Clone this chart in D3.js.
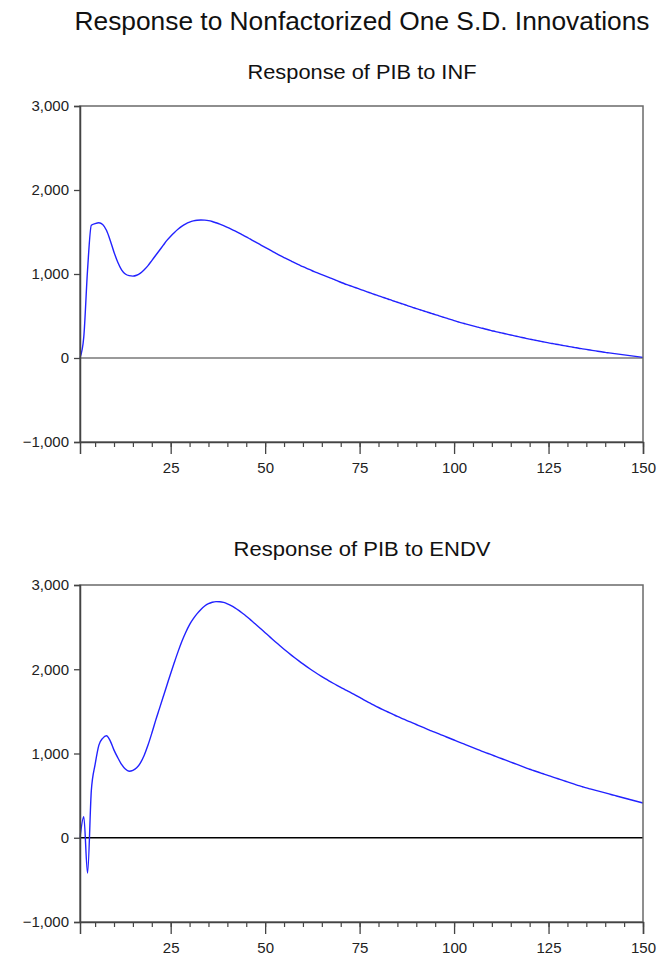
<!DOCTYPE html>
<html>
<head>
<meta charset="utf-8">
<script src="https://cdn.jsdelivr.net/npm/d3@7"></script>
<style>
  html, body { margin: 0; padding: 0; background: #fff; }
  svg { display: block; }
  text { font-family: "Liberation Sans", Arial, sans-serif; }
</style>
</head>
<body>
<svg id="chart" width="659" height="963"></svg>
<script>
// ---------------- DATA ----------------
const mainTitle = "Response to Nonfactorized One S.D. Innovations";
const panelTitles = ["Response of PIB to INF", "Response of PIB to ENDV"];
const yTickValues = [-1000, 0, 1000, 2000, 3000];
const xMajorTicks = [25, 50, 75, 100, 125, 150];
const xMinorTicks = d3.range(5, 151, 5);
const periods = d3.range(1, 151);

const responseINF = [
  0, 250, 1050, 1580, 1600, 1610, 1590, 1520, 1400, 1260,
  1140, 1050, 1000, 980, 975, 985, 1010, 1050, 1100, 1160,
  1220, 1280, 1340, 1400, 1450, 1495, 1535, 1570, 1598, 1618,
  1632, 1640, 1643, 1641, 1636, 1625, 1610, 1594, 1576, 1556,
  1535, 1513, 1490, 1466, 1442, 1417, 1392, 1367, 1342, 1317,
  1292, 1267, 1243, 1219, 1196, 1173, 1151, 1129, 1108, 1087,
  1067, 1048, 1029, 1011, 993, 975, 957, 939, 920, 902,
  884, 868, 852, 836, 820, 804, 788, 772, 756, 740,
  725, 710, 694, 679, 664, 649, 634, 618, 603, 588,
  574, 560, 545, 531, 517, 502, 488, 474, 459, 445,
  432, 419, 407, 395, 383, 371, 359, 348, 336, 325,
  314, 304, 294, 284, 274, 264, 254, 244, 234, 225,
  216, 207, 198, 189, 180, 172, 164, 156, 148, 140,
  132, 124, 116, 109, 102, 95, 88, 81, 74, 67,
  61, 55, 49, 43, 37, 31, 25, 19, 13, 7
];

const responseENDV = [
  0, 250, -420, 560, 870, 1100, 1180, 1210, 1150, 1040,
  950, 870, 815, 790, 800, 830, 890, 980, 1100, 1240,
  1390, 1530, 1670, 1810, 1950, 2085, 2215, 2335, 2440, 2530,
  2600, 2660, 2710, 2750, 2778, 2795, 2803, 2802, 2793, 2776,
  2754, 2728, 2698, 2665, 2630, 2592, 2553, 2514, 2474, 2434,
  2394, 2354, 2315, 2276, 2238, 2201, 2165, 2130, 2096, 2063,
  2031, 2000, 1970, 1941, 1913, 1886, 1860, 1834, 1809, 1785,
  1762, 1738, 1715, 1690, 1665, 1640, 1616, 1593, 1569, 1546,
  1524, 1503, 1482, 1461, 1440, 1420, 1401, 1382, 1363, 1344,
  1325, 1306, 1287, 1268, 1250, 1232, 1214, 1196, 1178, 1160,
  1142, 1124, 1106, 1088, 1070, 1052, 1034, 1017, 1000, 983,
  966, 949, 932, 915, 898, 881, 864, 847, 830, 813,
  798, 783, 768, 753, 738, 723, 708, 693, 678, 663,
  648, 633, 618, 605, 592, 580, 568, 556, 544, 532,
  520, 508, 496, 484, 472, 460, 448, 436, 424, 412
];

// ---------------- LAYOUT ----------------
const svg = d3.select("#chart");
const plotLeft = 80, plotRight = 643;

const panels = [
  { title: panelTitles[0], values: responseINF, top: 106, bottom: 442, titleY: 72, titleW: 229, zeroColor: "#9a9a9a", zeroWidth: 2 },
  { title: panelTitles[1], values: responseENDV, top: 585, bottom: 922, titleY: 549, titleW: 257, zeroColor: "#000", zeroWidth: 1.3 }
];

svg.append("text")
  .attr("x", 362).attr("y", 21)
  .attr("text-anchor", "middle")
  .attr("dominant-baseline", "central")
  .attr("font-size", 25)
  .attr("textLength", 575)
  .attr("lengthAdjust", "spacingAndGlyphs")
  .attr("fill", "#111")
  .text(mainTitle);

const x = d3.scaleLinear().domain([1, 150]).range([plotLeft, plotRight]);

panels.forEach(p => {
  const y = d3.scaleLinear().domain([-1000, 3000]).range([p.bottom, p.top]);
  const g = svg.append("g");

  g.append("text")
    .attr("x", 362).attr("y", p.titleY)
    .attr("text-anchor", "middle")
    .attr("dominant-baseline", "central")
    .attr("font-size", 20)
    .attr("textLength", p.titleW)
    .attr("lengthAdjust", "spacingAndGlyphs")
    .attr("fill", "#111")
    .text(p.title);

  // zero line
  g.append("line")
    .attr("x1", plotLeft).attr("x2", plotRight)
    .attr("y1", y(0)).attr("y2", y(0))
    .attr("stroke", p.zeroColor).attr("stroke-width", p.zeroWidth);

  // data line
  const line = d3.line()
    .x((d, i) => x(periods[i]))
    .y(d => y(d))
    .curve(d3.curveMonotoneX);
  g.append("path")
    .datum(p.values)
    .attr("fill", "none")
    .attr("stroke", "#2222ff")
    .attr("stroke-width", 1.4)
    .attr("stroke-linejoin", "round")
    .attr("d", line);

  // frame
  g.append("rect")
    .attr("x", plotLeft).attr("y", p.top)
    .attr("width", plotRight - plotLeft).attr("height", p.bottom - p.top)
    .attr("fill", "none").attr("stroke", "#6a6a6a").attr("stroke-width", 1.5);

  // y axis
  const yAxis = d3.axisLeft(y)
    .tickValues(yTickValues)
    .tickSize(6)
    .tickPadding(5)
    .tickFormat(d3.format(","));
  const ya = g.append("g").attr("transform", `translate(${plotLeft},0)`).call(yAxis);
  ya.select(".domain").attr("stroke", "#444").attr("stroke-width", 1.5);
  ya.selectAll(".tick line").attr("stroke", "#444").attr("stroke-width", 1.3);
  ya.selectAll(".tick text").attr("font-size", 15).attr("fill", "#222")
    .attr("font-family", "Liberation Sans, Arial, sans-serif");

  // x axis minor ticks
  const xMinor = d3.axisBottom(x).tickValues(xMinorTicks).tickSize(5).tickFormat("");
  const xm = g.append("g").attr("transform", `translate(0,${p.bottom})`).call(xMinor);
  xm.select(".domain").remove();
  xm.selectAll(".tick line").attr("stroke", "#444").attr("stroke-width", 1.2);

  // x axis major ticks
  const xAxis = d3.axisBottom(x).tickValues(xMajorTicks).tickSize(12).tickPadding(8);
  const xa = g.append("g").attr("transform", `translate(0,${p.bottom})`).call(xAxis);
  xa.select(".domain").attr("stroke", "#444").attr("stroke-width", 1.5);
  xa.selectAll(".tick line").attr("stroke", "#444").attr("stroke-width", 1.3);
  xa.selectAll(".tick text").attr("font-size", 15).attr("fill", "#222")
    .attr("font-family", "Liberation Sans, Arial, sans-serif");
});
</script>
</body>
</html>
